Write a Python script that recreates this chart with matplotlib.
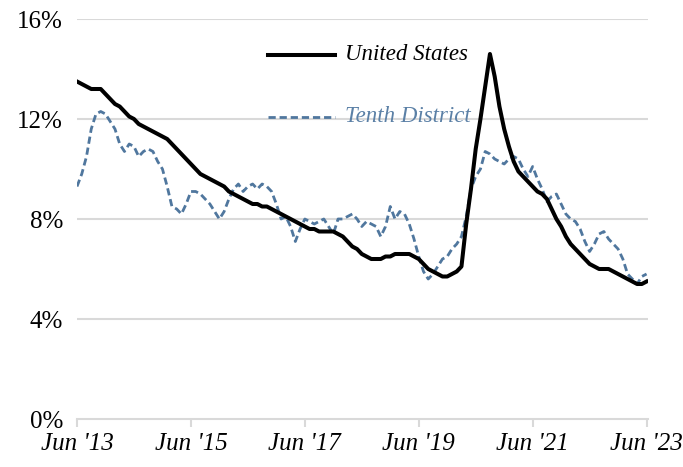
import matplotlib
matplotlib.use("Agg")
import matplotlib.pyplot as plt
import numpy as np

# Monthly data, Jun 2013 .. Jun 2023 (121 months), percent
united_states = [
    13.5, 13.4, 13.3, 13.2, 13.2, 13.2, 13.0, 12.8, 12.6, 12.5,
    12.3, 12.1, 12.0, 11.8, 11.7, 11.6, 11.5, 11.4, 11.3, 11.2,
    11.0, 10.8, 10.6, 10.4, 10.2, 10.0, 9.8, 9.7, 9.6, 9.5,
    9.4, 9.3, 9.1, 9.0, 8.9, 8.8, 8.7, 8.6, 8.6, 8.5,
    8.5, 8.4, 8.3, 8.2, 8.1, 8.0, 7.9, 7.8, 7.7, 7.6,
    7.6, 7.5, 7.5, 7.5, 7.5, 7.4, 7.3, 7.1, 6.9, 6.8,
    6.6, 6.5, 6.4, 6.4, 6.4, 6.5, 6.5, 6.6, 6.6, 6.6,
    6.6, 6.5, 6.4, 6.2, 6.0, 5.9, 5.8, 5.7, 5.7, 5.8,
    5.9, 6.1, 7.8, 9.2, 10.8, 12.0, 13.3, 14.6, 13.7, 12.5,
    11.6, 10.9, 10.3, 9.9, 9.7, 9.5, 9.3, 9.1, 9.0, 8.8,
    8.4, 8.0, 7.7, 7.3, 7.0, 6.8, 6.6, 6.4, 6.2, 6.1,
    6.0, 6.0, 6.0, 5.9, 5.8, 5.7, 5.6, 5.5, 5.4, 5.4,
    5.5,
]
tenth_district = [
    9.3, 9.8, 10.5, 11.6, 12.2, 12.3, 12.2, 11.9, 11.6, 11.0,
    10.7, 11.0, 10.9, 10.5, 10.7, 10.8, 10.7, 10.3, 10.0, 9.3,
    8.5, 8.4, 8.2, 8.6, 9.1, 9.1, 9.0, 8.8, 8.6, 8.3,
    8.0, 8.3, 8.8, 9.2, 9.4, 9.1, 9.3, 9.4, 9.2, 9.4,
    9.3, 9.1, 8.6, 8.0, 8.1, 7.7, 7.1, 7.6, 8.0, 7.9,
    7.8, 7.9, 8.0, 7.7, 7.4, 8.0, 8.0, 8.1, 8.2, 8.0,
    7.7, 7.9, 7.8, 7.7, 7.3, 7.7, 8.5, 8.0, 8.3, 8.2,
    7.8, 7.2, 6.5, 5.9, 5.6, 5.8, 6.1, 6.4, 6.5, 6.8,
    7.0, 7.3, 8.1, 9.2, 9.7, 10.0, 10.7, 10.6, 10.4, 10.3,
    10.2, 10.4, 10.5, 10.4, 10.0, 9.7, 10.1, 9.6, 9.2, 8.7,
    8.9, 9.0, 8.6, 8.2, 8.0, 7.9, 7.6, 7.1, 6.7, 7.0,
    7.4, 7.5, 7.2, 7.0, 6.8, 6.4, 5.8, 5.6, 5.4, 5.7,
    5.8,
]
x_tick_labels = ["Jun '13", "Jun '15", "Jun '17", "Jun '19", "Jun '21", "Jun '23"]
y_ticks = [0, 4, 8, 12, 16]

months = np.arange(len(united_states))

serif = ["Liberation Serif", "DejaVu Serif"]
blue = "#50779e"
dash = (0, (2.6, 1.4))

fig = plt.figure(figsize=(6.83, 4.67), dpi=100)
ax = fig.add_axes([77 / 683, (467 - 419) / 467, 571 / 683, 400 / 467])

ax.plot(months, tenth_district, color=blue, lw=2.0, ls=dash,
        label="Tenth District", zorder=3)
ax.plot(months, united_states, color="black", lw=2.9, label="United States",
        zorder=4, solid_joinstyle="round")

ax.set_xlim(0, 120.3)
ax.set_ylim(0, 16)
ax.set_yticks(y_ticks)
ax.set_yticklabels([f"{v}%" for v in y_ticks], fontfamily=serif, fontsize=18)
ax.set_xticks(np.arange(0, 121, 24))
ax.set_xticklabels(x_tick_labels, fontfamily=serif, fontsize=18, style="italic")

for v in y_ticks[1:]:
    ax.axhline(v, color="#d9d9d9", lw=1.5, zorder=1)

for s in ["top", "right", "left"]:
    ax.spines[s].set_visible(False)
ax.spines["bottom"].set_color("#d9d9d9")
ax.spines["bottom"].set_linewidth(1.5)
ax.tick_params(axis="y", length=0, pad=10, colors="black")
ax.tick_params(axis="x", length=6, width=1.5, color="#d9d9d9", pad=4)

# legend drawn manually (positions in data units of the axes)
lx0, lx1 = (268 - 77) / 4.75, (335 - 77) / 4.75
tx = (345 - 77) / 4.75
ax.plot([lx0, lx1], [14.55, 14.55], color="black", lw=2.9, clip_on=False)
ax.text(tx, 14.6, "United States", fontfamily=serif,
        fontsize=16.5, style="italic", va="center", ha="left", color="black")
ax.plot([lx0, lx1], [12.07, 12.07], color=blue, lw=2.0, ls=dash, clip_on=False)
ax.text(tx, 12.1, "Tenth District", fontfamily=serif,
        fontsize=16.5, style="italic", va="center", ha="left", color="#5b80a6")

fig.savefig("out.png", dpi=100)
